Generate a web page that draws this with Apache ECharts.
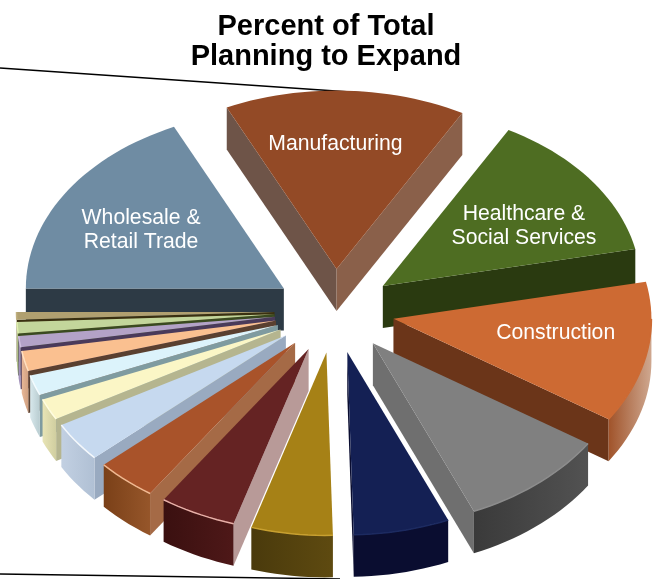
<!DOCTYPE html>
<html>
<head>
<meta charset="utf-8">
<style>html,body{margin:0;padding:0;background:#fff}#chart{width:659px;height:579px}</style>
<script src="https://cdn.jsdelivr.net/npm/echarts@6/dist/echarts.min.js"></script>
</head>
<body>
<div id="chart"></div>
<script>
// Sectors clockwise from Manufacturing, percent of total planning to expand
const categories = ['Manufacturing','Healthcare & Social Services','Construction','Sector D','Sector E','Sector F','Sector G','Sector H','Sector I','Sector J','Sector K','Sector L','Sector M','Sector N','Sector O','Wholesale & Retail Trade'];
const shares = [15.1,13.6,12.6,9.3,6.0,5.1,4.8,3.8,3.5,1.9,1.8,1.8,1.0,1.0,0.7,18.0];
const labelLines = {0:['Manufacturing'],1:['Healthcare &','Social Services'],2:['Construction'],15:['Wholesale &','Retail Trade']};
const labelNudge = {0:[-7,-7],1:[4,10],2:[-5,-8],15:[1,5]};

// Shading of each wedge: top face, rim (left and right stops), cut faces, rim highlight
const topColors  = ['#934a26','#4e6d22','#cd6a33','#808080','#142054','#a68116','#652323','#a9532a','#c6d9ef','#fbf6c6','#dcf3fb','#fac090','#b3a2c7','#c3d69b','#b0a070','#6f8ca3'];
const rimLeft    = ['#6e5448','#2a3a10','#a0532a','#3a3a3a','#0a0d30','#4a3a0c','#3a1010','#7a4018','#c2d0e2','#e8e4b5','#d8e8ec','#e8b898','#a898c0','#b8c890','#a89868','#2d3a45'];
const rimRight   = ['#8a604a','#2a3a10','#cfa890','#525252','#0a0d30','#5e4a10','#4e1818','#96562a','#b0c0d4','#d0cea0','#b8ccd0','#d0a080','#9888b0','#a8b880','#988858','#2d3a45'];
const cutColors  = ['#8a604a','#2a3a10','#6b3519','#6f6f6f','#0a0d30','#5a4510','#b89a98','#a56a46','#99aac0','#b5b58f','#7f9ba0','#5a4030','#4a3a5a','#3a4a20','#3a3010','#2d3a45'];
const leadingCut = {0:'#6e5448'};
const glowColors = ['#934a26','#4e6d22','#cd6a33','#8c8c8c','#1c2a60','#c8a030','#e8b0a8','#f0b890','#f4f8fc','#fffde0','#f4fcff','#ffe0c0','#d0c0e0','#e0f0b0','#c0b080','#7a98ae'];

// Projection of the tilted disc
const centerX = 334.5, centerY = 311, radius = 258, squash = 0.7, nearGrowth = 0.012, explode = 60, depth = 42;
const firstAngle = -25.2, labelRadius = 0.66, titleLines = ['Percent of Total','Planning to Expand'];

const total = shares.reduce((a, b) => a + b, 0);
let running = firstAngle;
const wedges = shares.map((v, i) => {
  const start = running;
  running += v / total * 360;
  return { index: i, start, end: running, mid: (start + running) / 2 };
});
const rad = d => d * Math.PI / 180;

// Paint back to front so nearer wedges overlap farther ones
const order = wedges.slice().sort((a, b) => Math.cos(rad(b.mid)) - Math.cos(rad(a.mid)));

// Depth term: the near side of the disc reads slightly larger than the far side
const rise = a => squash * Math.cos(a) * (1 - nearGrowth * Math.cos(a));

function arcPoints(apex, from, to) {
  const pts = [], n = Math.max(2, Math.ceil(Math.abs(to - from) / 2));
  for (let k = 0; k <= n; k++) {
    const a = rad(from + (to - from) * k / n);
    pts.push([apex[0] + radius * Math.sin(a), apex[1] - radius * rise(a)]);
  }
  return pts;
}
const drop = pts => pts.map(p => [p[0], p[1] + depth]);

function renderWedge(params, api) {
  const i = api.value(1), w = wedges[i], m = rad(w.mid);
  const apex = [centerX + explode * Math.sin(m), centerY - explode * squash * Math.cos(m)];
  const arc = arcPoints(apex, w.start, w.end);
  const children = [];
  const poly = (points, fill) => children.push({ type: 'polygon', shape: { points }, style: { fill }, silent: true });

  // Cut faces that turn toward the viewer
  [[arc[0], leadingCut[i] || cutColors[i]], [arc[arc.length - 1], cutColors[i]]].forEach(([corner, fill]) => {
    const ex = corner[0] - apex[0], ey = corner[1] - apex[1];
    let nx = ey, ny = -ex;
    const mx = Math.sin(m), my = -squash * Math.cos(m);
    if (nx * mx + ny * my > 0) { nx = -nx; ny = -ny; }
    if (ny > 0) poly([apex, corner, [corner[0], corner[1] + depth], [apex[0], apex[1] + depth]], fill);
  });

  // Outer rim: only the stretch on the near half of the disc
  const rimFrom = Math.max(w.start, 90), rimTo = Math.min(w.end, 270);
  if (rimTo > rimFrom) {
    const rim = arcPoints(apex, rimFrom, rimTo);
    poly(rim.concat(drop(rim).reverse()), new echarts.graphic.LinearGradient(0, 0, 1, 0, [
      { offset: 0, color: rimLeft[i] }, { offset: 1, color: rimRight[i] }
    ]));
  }

  poly([apex].concat(arc), topColors[i]);
  if (rimTo > rimFrom) {
    children.push({ type: 'polyline', shape: { points: arcPoints(apex, rimFrom, rimTo) }, style: { stroke: glowColors[i], lineWidth: 1.5, fill: null }, silent: true });
  }

  // Sector name on the wedge
  const lines = labelLines[i];
  if (lines) {
    const lx = apex[0] + labelRadius * radius * Math.sin(m) + labelNudge[i][0];
    const ly = apex[1] - labelRadius * radius * rise(m) + labelNudge[i][1];
    children.push({ type: 'text', silent: true, style: {
      x: lx, y: ly, text: lines.join('\n'), fill: '#fff', align: 'center', verticalAlign: 'middle',
      font: '21.2px "Liberation Sans", Arial, sans-serif', lineHeight: 24
    }});
  }
  return { type: 'group', children };
}

const chart = echarts.init(document.getElementById('chart'), null, { renderer: 'canvas' });
chart.setOption({
  animation: false,
  backgroundColor: '#fff',
  title: {
    text: titleLines.join('\n'), left: 321, top: 7, textAlign: 'center',
    textStyle: { fontFamily: '"Liberation Sans", Arial, sans-serif', fontWeight: 'bold', fontSize: 29, lineHeight: 30, color: '#000' }
  },
  graphic: [
    { type: 'line', shape: { x1: 0, y1: 68, x2: 365, y2: 93 }, style: { stroke: '#000', lineWidth: 1.6 }, silent: true },
    { type: 'line', shape: { x1: 0, y1: 574, x2: 340, y2: 579 }, style: { stroke: '#000', lineWidth: 1.4 }, silent: true }
  ],
  series: [{
    type: 'custom',
    coordinateSystem: 'none',
    renderItem: renderWedge,
    silent: true,
    encode: { value: 0 },
    data: order.map(w => ({ name: categories[w.index], value: [shares[w.index], w.index] }))
  }]
});
</script>
</body>
</html>
